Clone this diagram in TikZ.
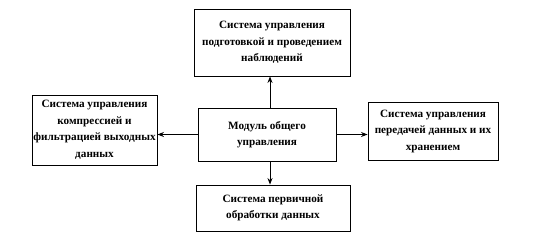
\documentclass[tikz,border=0pt]{standalone}
\usepackage{fontspec}
\setmainfont{Liberation Serif}
\usetikzlibrary{arrows.meta}

\begin{document}
\begin{tikzpicture}[x=1pt,y=1pt,
  block/.style={draw,line width=0.9pt,rectangle,align=center,inner sep=1pt,
    font=\bfseries\fontsize{11.2}{16.5}\selectfont},
  link/.style={line width=0.9pt,-{Stealth[length=6.5pt,width=5pt]}}]
  \useasboundingbox (0,0) rectangle (538,242);

  % Central module and the four subsystems round it.
  \node[block,minimum width=138,minimum height=53] (mod) at (267,107.5)
    {Модуль общего\\управления};
  \node[block,minimum width=156,minimum height=67] (obs) at (272,199.5)
    {Система управления\\подготовкой и проведением\\наблюдений};
  \node[block,minimum width=125,minimum height=70] (comp) at (94.5,112)
    {Система управления\\компрессией и\\фильтрацией выходных\\данных};
  \node[block,minimum width=130,minimum height=58] (store) at (433,111)
    {Система управления\\передачей данных и их\\хранением};
  \node[block,minimum width=154,minimum height=46] (prim) at (273,34)
    {Система первичной\\обработки данных};

  % Connectors leave the module towards every subsystem.
  \draw[link] ([xshift=3pt]mod.north) -- ([xshift=3pt]mod.north |- obs.south);
  \draw[link] ([xshift=3pt]mod.south) -- ([xshift=3pt]mod.south |- prim.north);
  \draw[link] (mod.west) -- (mod.west -| comp.east);
  \draw[link] (mod.east) -- (mod.east -| store.west);
\end{tikzpicture}
\end{document}
